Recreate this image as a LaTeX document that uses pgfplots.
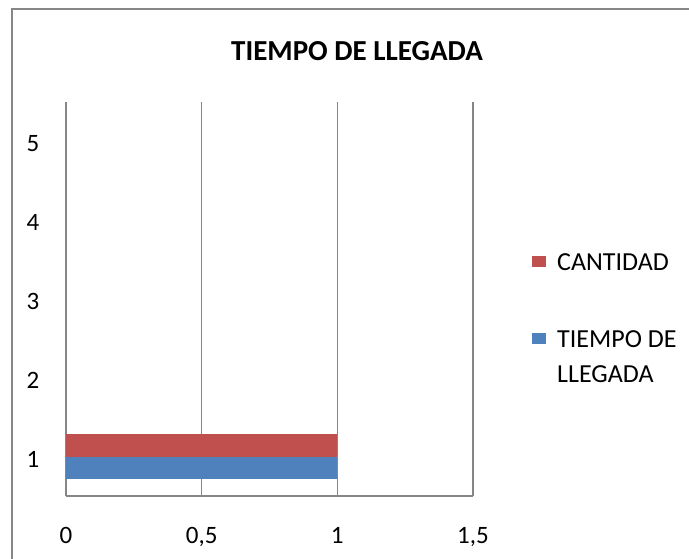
\documentclass[border=0pt]{standalone}
\usepackage{pgfplots}
\pgfplotsset{compat=1.18}
\usepackage{fontspec}
\setmainfont{Carlito}
\definecolor{gridgray}{RGB}{134,134,134}
\definecolor{xlred}{RGB}{192,80,77}
\definecolor{xlblue}{RGB}{79,129,189}
\begin{document}
\begin{tikzpicture}[x=1pt,y=1pt]
\useasboundingbox (0,0) rectangle (689,558);
\draw[gridgray, line width=1.5pt] (12,-5) -- (12,549) -- (695,549);
\begin{axis}[
  at={(66pt,62pt)}, anchor=south west,
  scale only axis, width=407pt, height=394pt,
  xbar, bar width=0.29,
  xmin=0, xmax=1.5, ymin=0.5, ymax=5.5,
  xtick={0,0.5,1,1.5}, xticklabels={0,{0,5},1,{1,5}},
  ytick={1,2,3,4,5},
  /pgf/number format/assume math mode=true,
  major tick length=0pt,
  axis x line=bottom, axis y line=left,
  axis line style={gridgray, line width=1.5pt, -},
  xmajorgrids, grid style={gridgray, line width=1.5pt},
  ticklabel style={font=\fontsize{25}{30}\selectfont},
  xticklabel style={anchor=base, yshift=-47pt},
  yticklabel style={anchor=base, xshift=-33pt, yshift=-10.5pt},
  title={\textbf{TIEMPO DE LLEGADA}},
  title style={at={(axis description cs:0.715,1.09)}, anchor=base, font=\fontsize{29}{33}\selectfont},
  legend style={draw=none, inner sep=0pt, at={(axis description cs:1.145,0.62)}, anchor=north west,
    font=\fontsize{26}{35}\selectfont, cells={anchor=base west, inner sep=0pt}, row sep=47pt,
    /tikz/every odd column/.append style={column sep=9pt}},
  legend image code/.code={\fill[#1] (0pt,4pt) rectangle (14pt,15pt);},
]
\addplot[fill=xlred, draw=none, bar shift=0.145] coordinates {(1,1)};
\addlegendentry{CANTIDAD}
\addplot[fill=xlblue, draw=none, bar shift=-0.145] coordinates {(1,1)};
\addlegendentry{\begin{tabular}[t]{@{}l@{}}TIEMPO DE\\[-0.6pt]LLEGADA\end{tabular}}
\end{axis}
\end{tikzpicture}
\end{document}
